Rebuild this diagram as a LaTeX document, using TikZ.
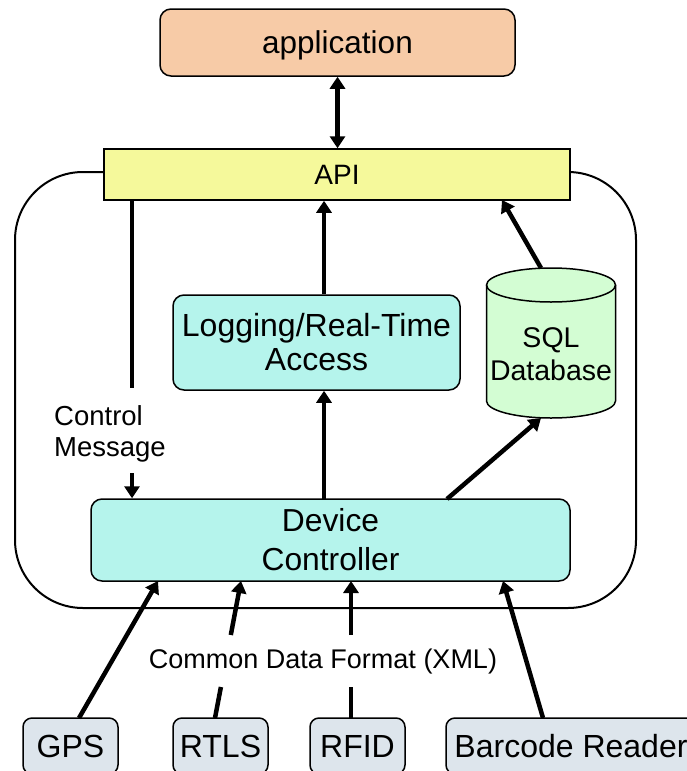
\documentclass[tikz,border=0pt]{standalone}
\usepackage{fontspec}
\setmainfont{Liberation Sans}
\usetikzlibrary{arrows.meta}

\definecolor{appfill}{HTML}{F7CBA7}
\definecolor{apifill}{HTML}{F5F99B}
\definecolor{modfill}{HTML}{B5F4EC}
\definecolor{dbfill}{HTML}{D3FDD3}
\definecolor{devfill}{HTML}{DDE5EC}

\tikzset{
  x=1pt, y=-1pt,
  box/.style={draw, line width=1.5pt, inner sep=0pt, align=center},
  roundbox/.style={box, rounded corners=11pt},
  srcbox/.style={box, rounded corners=9pt, fill=devfill, minimum height=56pt,
    font=\fontsize{32}{38}\selectfont},
  flow/.style={line width=4.5pt, -{Triangle[length=12pt,width=15pt]}},
  bothflow/.style={line width=4.5pt, {Triangle[length=12pt,width=15pt]}-{Triangle[length=12pt,width=15pt]}},
  plain/.style={line width=4.5pt},
}

\begin{document}
\begin{tikzpicture}
\useasboundingbox (0,0) rectangle (687,771);
\clip (0,0) rectangle (687,771);

% enclosing middleware frame
\draw[line width=2pt, rounded corners=68pt] (15,172) rectangle (636,608);

% top layer
\node[roundbox, fill=appfill, minimum width=355pt, minimum height=67pt, text depth=0pt,
  font=\fontsize{31.5}{36}\selectfont] (app) at (337.5,42.5) {application};
\node[box, fill=apifill, minimum width=466pt, minimum height=51pt,
  font=\fontsize{28}{32}\selectfont] (api) at (337,174.5) {API};

% inner modules
\node[roundbox, fill=modfill, minimum width=287pt, minimum height=95pt,
  font=\fontsize{32}{34}\selectfont] (log) at (316.5,342.5) {Logging/Real-Time\\Access};
\node[roundbox, fill=modfill, minimum width=479pt, minimum height=82pt,
  font=\fontsize{31.8}{39}\selectfont] (dev) at (330.5,540) {Device\\Controller};

% SQL database cylinder
\path[fill=dbfill, draw, line width=1.5pt]
  (486.5,285) -- (486.5,401) arc[start angle=180, end angle=360, x radius=64.5pt, y radius=17pt]
  -- (615.5,285) arc[start angle=0, end angle=180, x radius=64.5pt, y radius=17pt] -- cycle;
\draw[line width=1.5pt] (486.5,285) arc[start angle=180, end angle=360, x radius=64.5pt, y radius=17pt];
\node[align=center, inner sep=0pt, font=\fontsize{28.5}{33}\selectfont] (db) at (551,354) {SQL\\Database};
\coordinate (dbtop) at (541,268);
\coordinate (dbbot) at (541,418);

% control message path
\node[align=left, anchor=west, inner sep=0pt, font=\fontsize{27.5}{31}\selectfont] (ctl) at (54,434) {Control\\Message};
\coordinate (ctlA) at (132,388);
\coordinate (ctlB) at (132,473);

% data sources
\node[srcbox, minimum width=95pt]  (gps)  at (70.5,746) {GPS};
\node[srcbox, minimum width=95pt]  (rtls) at (220.5,746) {RTLS};
\node[srcbox, minimum width=95pt]  (rfid) at (357.5,746) {RFID};
\node[srcbox, minimum width=250pt] (bar)  at (571,746) {Barcode Reader};

\node[inner sep=0pt, font=\fontsize{27}{31}\selectfont] (cdf) at (323,662) {Common Data Format (XML)};

% attachment points of the connectors
\coordinate (apiDb)   at (502,200);
\coordinate (devLog)  at (324,499);
\coordinate (devDb)   at (447,499);
\coordinate (gpsOut)  at (79,718);
\coordinate (gpsIn)   at (158,581);
\coordinate (rtlsOut) at (215,718);
\coordinate (rtlsGa)  at (220.9,687);
\coordinate (rtlsGb)  at (230.8,635);
\coordinate (rtlsIn)  at (241,581);
\coordinate (rfidOut) at (351,718);
\coordinate (rfidGa)  at (351,687);
\coordinate (rfidGb)  at (351,635);
\coordinate (rfidIn)  at (351,581);
\coordinate (barOut)  at (543,718);
\coordinate (barIn)   at (503,581);

% connectors
\draw[bothflow] (app.south) -- (api.north -| app.south);
\draw[flow] ([xshift=7.5pt]log.north) -- ([xshift=7.5pt]log.north |- api.south);
\draw[flow] (dbtop) -- (apiDb);
\draw[plain] (api.south -| ctlA) -- (ctlA);
\draw[flow] (ctlB) -- (dev.north -| ctlB);
\draw[flow] (devLog) -- ([xshift=7.5pt]log.south);
\draw[flow] (devDb) -- (dbbot);

\draw[flow] (gpsOut) -- (gpsIn);
\draw[plain] (rtlsOut) -- (rtlsGa);
\draw[flow] (rtlsGb) -- (rtlsIn);
\draw[plain] (rfidOut) -- (rfidGa);
\draw[flow] (rfidGb) -- (rfidIn);
\draw[flow] (barOut) -- (barIn);
\end{tikzpicture}
\end{document}
